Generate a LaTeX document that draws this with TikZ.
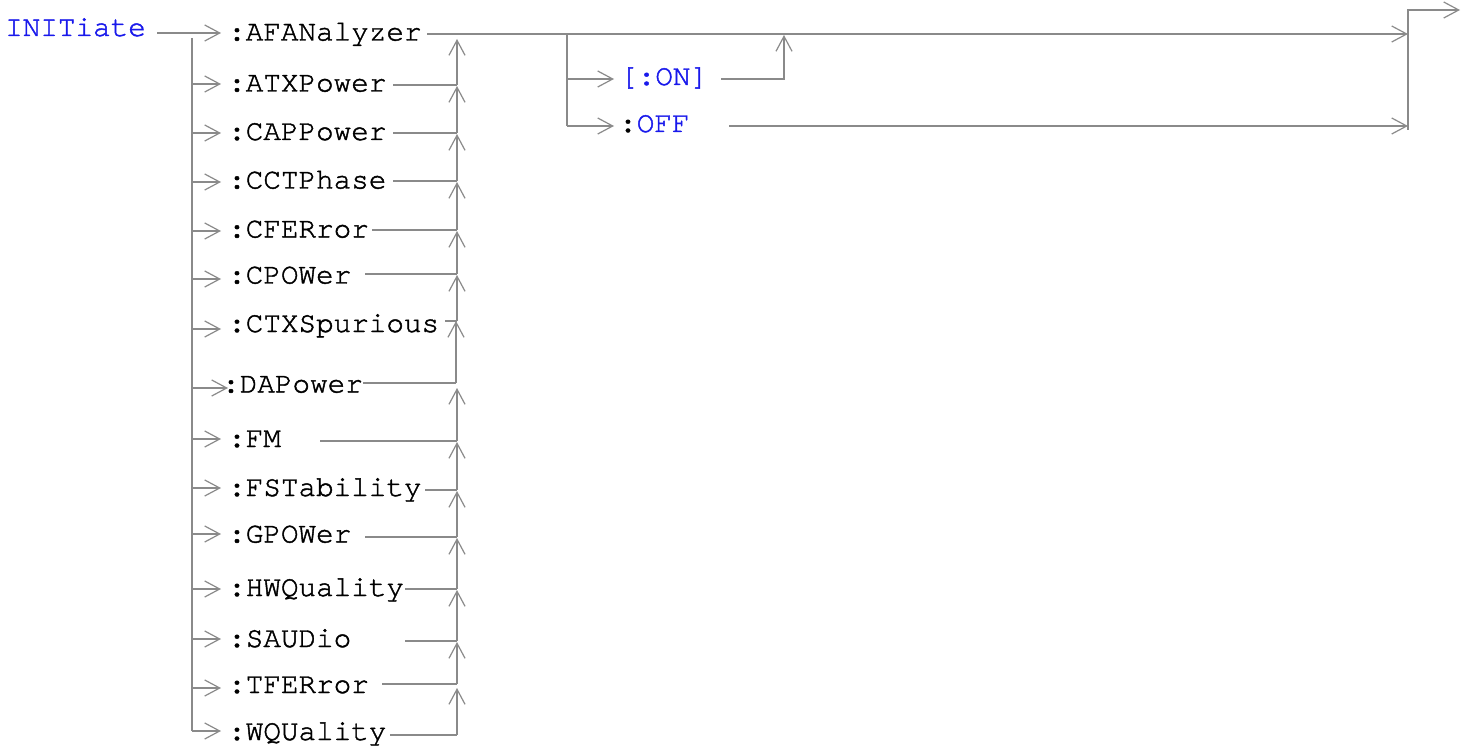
\documentclass[tikz,border=0pt]{standalone}
\usepackage{fontspec}
\newfontfamily\courfont[FakeBold=1.5]{texgyrecursor-regular.otf}
\usetikzlibrary{arrows.meta}
\definecolor{lg}{RGB}{138,138,138}
\definecolor{kb}{RGB}{25,25,235}
\tikzset{
  conn/.style={draw=lg, line width=2pt},
  arr/.style={conn, -{Straight Barb[length=15pt,width=16pt,line width=1.2pt]}},
  lbl/.style={inner sep=0pt, anchor=base west, font=\courfont\fontsize{29.3}{32}\selectfont},
  kw/.style={lbl, text=kb},
}
\begin{document}
\begin{tikzpicture}[x=1pt,y=-1pt]
\useasboundingbox (0,0) rectangle (1471,751);
% root
\node[kw] (root) at (5,36) {INITiate};
\coordinate (rootE) at (157,33);
\coordinate (t1) at (221,33);
\draw[arr] (rootE) -- (t1);
% left column
\coordinate (lv) at (192,38);
\coordinate (a15) at (192,731);
\draw[conn] (lv) -- (a15);
% items
\node[lbl] (r1)  at (228,40.5) {:AFANalyzer};
\node[lbl] (r2)  at (228,91.5) {:ATXPower};
\node[lbl] (r3)  at (228,140) {:CAPPower};
\node[lbl] (r4)  at (228,188.5) {:CCTPhase};
\node[lbl] (r5)  at (228,237.5) {:CFERror};
\node[lbl] (r6)  at (228,283.5) {:CPOWer};
\node[lbl] (r7)  at (228,332) {:CTXSpurious};
\node[lbl] (r8)  at (222,392.5) {:DAPower};
\node[lbl] (r9)  at (228,447) {:FM};
\node[lbl] (r10) at (228,496) {:FSTability};
\node[lbl] (r11) at (228,542.5) {:GPOWer};
\node[lbl] (r12) at (228,596) {:HWQuality};
\node[lbl] (r13) at (228,647) {:SAUDio};
\node[lbl] (r14) at (228,693) {:TFERror};
\node[lbl] (r15) at (228,740) {:WQUality};
% left arrows
\coordinate (a2) at (192,84);   \coordinate (t2) at (221,84);
\coordinate (a3) at (192,133);  \coordinate (t3) at (221,133);
\coordinate (a4) at (192,182);  \coordinate (t4) at (221,182);
\coordinate (a5) at (192,231);  \coordinate (t5) at (221,231);
\coordinate (a6) at (192,279);  \coordinate (t6) at (221,279);
\coordinate (a7) at (192,329);  \coordinate (t7) at (221,329);
\coordinate (a8) at (192,388);  \coordinate (t8) at (228,388);
\coordinate (a9) at (192,439);  \coordinate (t9) at (221,439);
\coordinate (a10) at (192,488); \coordinate (t10) at (221,488);
\coordinate (a11) at (192,534); \coordinate (t11) at (221,534);
\coordinate (a12) at (192,589); \coordinate (t12) at (221,589);
\coordinate (a13) at (192,639); \coordinate (t13) at (221,639);
\coordinate (a14) at (192,688); \coordinate (t14) at (221,688);
\coordinate (t15) at (221,731);
\foreach \i in {2,...,15} {\draw[arr] (a\i) -- (t\i);}
% right ends of item lines
\coordinate (e1) at (427,34);
\coordinate (e2) at (393,85);   \coordinate (j2) at (457,85);
\coordinate (e3) at (393,133);  \coordinate (j3) at (457,133);
\coordinate (e4) at (393,181);  \coordinate (j4) at (457,181);
\coordinate (e5) at (372,230);  \coordinate (j5) at (457,230);
\coordinate (e6) at (365,274);  \coordinate (j6) at (457,274);
\coordinate (e7) at (445,321);  \coordinate (j7) at (457,321);
\coordinate (e8) at (363,383);  \coordinate (j8) at (456,383);
\coordinate (e9) at (320,441);  \coordinate (j9) at (457,441);
\coordinate (e10) at (425,490); \coordinate (j10) at (457,490);
\coordinate (e11) at (365,537); \coordinate (j11) at (457,537);
\coordinate (e12) at (405,589); \coordinate (j12) at (457,589);
\coordinate (e13) at (405,641); \coordinate (j13) at (457,641);
\coordinate (e14) at (382,684); \coordinate (j14) at (457,684);
\coordinate (e15) at (390,735); \coordinate (j15) at (457,735);
\foreach \i in {2,...,15} {\draw[conn] (e\i) -- (j\i);}
% upward arrow tips
\coordinate (u1) at (457,39);
\coordinate (u2) at (457,86);
\coordinate (u3) at (457,134);
\coordinate (u4) at (457,182);
\coordinate (u5) at (457,231);
\coordinate (u6) at (457,275);
\coordinate (u7) at (456,321);
\coordinate (u8) at (457,388);
\coordinate (u9) at (457,442);
\coordinate (u10) at (457,491);
\coordinate (u11) at (457,538);
\coordinate (u12) at (457,590);
\coordinate (u13) at (457,642);
\coordinate (u14) at (457,688);
\foreach \i/\k in {2/1,3/2,4/3,5/4,6/5,7/6,8/7,9/8,10/9,11/10,12/11,13/12,14/13,15/14}
  {\draw[arr] (j\i) -- (u\k);}
% main line
\coordinate (m1) at (1408,34);
\draw[arr] (e1) -- (m1);
% ON / OFF branch
\coordinate (b0) at (567,34);
\coordinate (b1) at (567,79);
\coordinate (b2) at (567,126);
\coordinate (tON) at (614,79);
\coordinate (tOFF) at (614,126);
\draw[conn] (b0) -- (b2);
\draw[arr] (b1) -- (tON);
\draw[arr] (b2) -- (tOFF);
\node[kw] (on) at (620,85) {[:ON]};
\node[lbl] (off) at (619,132) {:\textcolor{kb}{OFF}};
\coordinate (onE) at (721,79);
\coordinate (onC) at (784,79);
\coordinate (onT) at (784,35);
\draw[arr] (onE) -- (onC) -- (onT);
\coordinate (offE) at (729,126);
\coordinate (m2) at (1408,126);
\draw[arr] (offE) -- (m2);
% exit
\coordinate (x0) at (1408,130);
\coordinate (x1) at (1408,10);
\coordinate (x2) at (1460,10);
\draw[arr] (x0) -- (x1) -- (x2);
\end{tikzpicture}
\end{document}
